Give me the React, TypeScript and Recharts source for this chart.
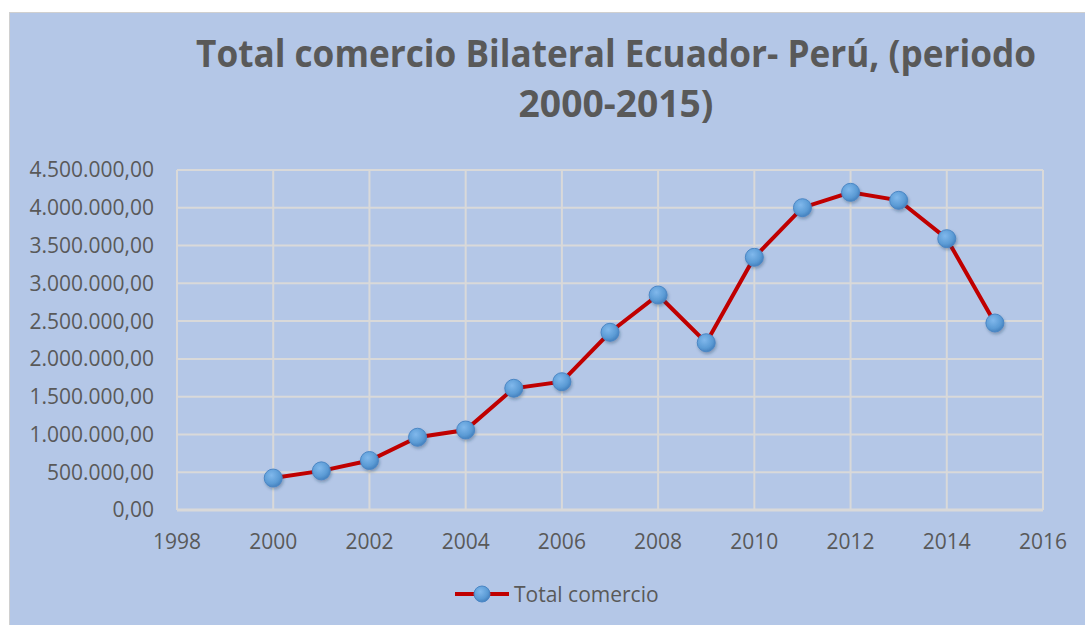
import React, { useLayoutEffect, useRef, useState } from "react";
import { LineChart, Line, XAxis, YAxis, CartesianGrid } from "recharts";

// Total comercio bilateral Ecuador - Perú
const years = [2000, 2001, 2002, 2003, 2004, 2005, 2006, 2007, 2008, 2009, 2010, 2011, 2012, 2013, 2014, 2015];
const totals = [
  423000, 518000, 655000, 963000, 1059000, 1611000, 1698000, 2352000,
  2846000, 2214000, 3345000, 4001000, 4205000, 4099000, 3591000, 2475000,
];
const xTicks = [1998, 2000, 2002, 2004, 2006, 2008, 2010, 2012, 2014, 2016];
const yTicks = [0, 500000, 1000000, 1500000, 2000000, 2500000, 3000000, 3500000, 4000000, 4500000];
const titleLines = ["Total comercio Bilateral Ecuador- Perú, (periodo", "2000-2015)"];

const data = years.map((year, i) => ({ year, total: totals[i] }));

const font = "'Open Sans', 'Liberation Sans', sans-serif";
const textGray = "#595959";
const gridGray = "#D9D9D9";

// 4500000 -> "4.500.000,00"
const fmtEs = (v: number) => {
  const s = Math.round(v).toString().replace(/\B(?=(\d{3})+(?!\d))/g, ".");
  return s + ",00";
};

const Marker = (props: any) => {
  const { cx, cy, index } = props;
  if (cx == null || cy == null) return null;
  return (
    <circle
      key={"dot-" + index}
      cx={cx}
      cy={cy}
      r={9}
      fill="url(#dotGrad)"
      stroke="#4A86C5"
      strokeWidth={1}
      filter="url(#dotShadow)"
    />
  );
};

// squeezes a bold title line to the width it has in the picture
const TitleLine = ({ text, y, width }: { text: string; y: number; width: number }) => {
  const ref = useRef<SVGTextElement>(null);
  const [sx, setSx] = useState(1);
  useLayoutEffect(() => {
    if (ref.current) {
      const w = ref.current.getComputedTextLength();
      if (w > 0) setSx(width / w);
    }
  }, [text, width]);
  return (
    <text
      ref={ref}
      x={0}
      y={y}
      transform={`translate(616,0) scale(${sx},1)`}
      textAnchor="middle"
      fontFamily={font}
      fontWeight="bold"
      fontSize={38}
      fill={textGray}
    >
      {text}
    </text>
  );
};

export default function App() {
  return (
    <div style={{ position: "absolute", left: 0, top: 0, width: 1085, height: 625, background: "#fff", overflow: "hidden" }}>
      <svg width={0} height={0} style={{ position: "absolute" }}>
        <defs>
          <radialGradient id="dotGrad" cx="40%" cy="35%" r="65%">
            <stop offset="0%" stopColor="#80B8EC" />
            <stop offset="70%" stopColor="#5B9BD5" />
            <stop offset="100%" stopColor="#4683C0" />
          </radialGradient>
          <filter id="dotShadow" x="-50%" y="-50%" width="200%" height="200%">
            <feDropShadow dx="1" dy="2" stdDeviation="1.5" floodColor="#1F3B5C" floodOpacity="0.35" />
          </filter>
        </defs>
      </svg>
      <div
        style={{
          position: "absolute",
          left: 9,
          top: 12,
          right: 0,
          bottom: 0,
          background: "#B4C7E7",
          borderLeft: "1px solid #D0D0D0",
          borderTop: "1px solid #D0D0D0",
        }}
      />
      <svg width={1085} height={140} style={{ position: "absolute", left: 0, top: 0 }}>
        <TitleLine text={titleLines[0]} y={67} width={840} />
        <TitleLine text={titleLines[1]} y={117} width={195} />
      </svg>
      <div style={{ position: "absolute", left: 0, top: 0 }}>
        <LineChart width={1085} height={625} data={data} margin={{ top: 170, right: 42, bottom: 0, left: 0 }}>
          <CartesianGrid stroke={gridGray} strokeWidth={2} horizontalValues={yTicks} verticalValues={xTicks} />
          <XAxis
            dataKey="year"
            type="number"
            domain={[1998, 2016]}
            ticks={xTicks}
            height={115}
            axisLine={{ stroke: gridGray, strokeWidth: 3 }}
            tickLine={false}
            tickSize={0}
            tickMargin={24}
            tick={{ fill: textGray, fontSize: 21, fontFamily: font }}
            interval={0}
          />
          <YAxis
            type="number"
            domain={[0, 4500000]}
            ticks={yTicks}
            width={177}
            axisLine={false}
            tickLine={false}
            tickSize={0}
            tickMargin={23}
            tickFormatter={fmtEs}
            tick={{ fill: textGray, fontSize: 21, fontFamily: font }}
            interval={0}
          />
          <Line
            dataKey="total"
            type="linear"
            stroke="#C00000"
            strokeWidth={4}
            dot={Marker}
            activeDot={false}
            isAnimationActive={false}
          />
        </LineChart>
      </div>
      <div style={{ position: "absolute", left: 455, top: 580, height: 28, display: "flex", alignItems: "center" }}>
        <svg width={56} height={28}>
          <line x1={0} y1={14} x2={54} y2={14} stroke="#C00000" strokeWidth={4} />
          <circle cx={27} cy={14} r={8} fill="url(#dotGrad)" stroke="#4A86C5" strokeWidth={1} />
        </svg>
        <span style={{ fontFamily: font, fontSize: 21, color: textGray, marginLeft: 3, lineHeight: "28px" }}>Total comercio</span>
      </div>
    </div>
  );
}
